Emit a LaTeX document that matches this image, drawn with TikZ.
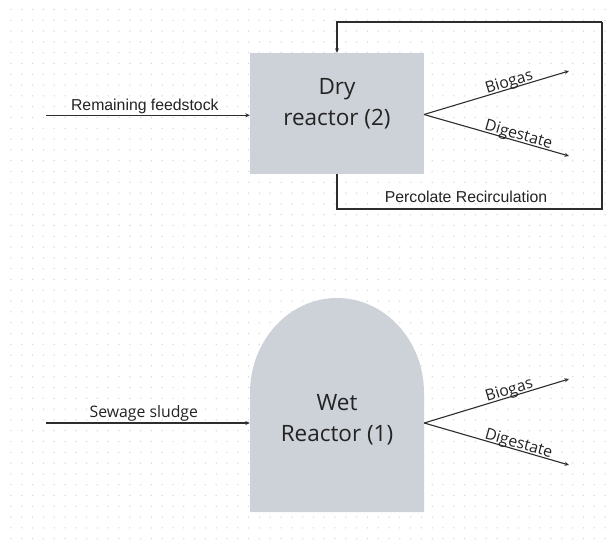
\documentclass[tikz,border=0pt]{standalone}
\usepackage{fontspec}
\setmainfont{Open Sans}
\newfontfamily\arialfont{Liberation Sans}
\usetikzlibrary{arrows.meta}
\definecolor{reactorfill}{RGB}{205,209,216}
\definecolor{linecol}{RGB}{45,45,45}
\definecolor{dotcol}{RGB}{215,215,215}
\definecolor{textcol}{RGB}{35,35,35}

\tikzset{
  flow/.style={draw=linecol, line width=1.1pt, -{Stealth[length=4.5pt,width=4pt]}},
  loopline/.style={draw=linecol, line width=1.1pt},
  reactor/.style={fill=reactorfill, draw=none, rectangle, inner sep=0pt},
  bigtext/.style={font=\fontsize{22.5}{31}\selectfont, text=textcol, align=center},
  smalltext/.style={font=\fontsize{15.8}{19}\selectfont, text=textcol, inner sep=0pt},
  slopetext/.style={smalltext, sloped, above=-2.5pt},
  sanslabel/.style={font=\arialfont\fontsize{15.8}{18}\selectfont, text=textcol, inner sep=0pt},
}

\begin{document}
\begin{tikzpicture}[x=1pt, y=-1pt]
  % canvas
  \fill[white] (0,0) rectangle (613,540);
  \useasboundingbox (0,0) rectangle (613,540);

  % dotted background grid
  \foreach \i in {0,...,56} {
    \foreach \j in {0,...,49} {
      \fill[dotcol] ({11+10.8*\i},{9.5+10.8*\j}) circle[radius=0.75pt];
    }
  }

  % ---------- dry reactor (2) ----------
  \node[reactor, minimum width=174pt, minimum height=121pt] (dry) at (337,113.5) {};
  \node[bigtext] (drytext) at (337,104) {Dry\\reactor (2)};

  \coordinate (feedA) at (46,115.3);
  \draw[flow] (feedA) -- (dry.west |- feedA)
    node[sanslabel, pos=0.485, anchor=base, yshift=4.6pt] {Remaining feedstock};

  \coordinate (dryOut) at (424,114.5);
  \coordinate (dryGas) at (569,71);
  \coordinate (dryDig) at (569,156);
  \draw[flow] (dryOut) -- (dryGas) node[slopetext, pos=0.6] {Biogas};
  \draw[flow] (dryOut) -- (dryDig) node[slopetext, pos=0.64] {Digestate};

  % percolate recirculation loop
  \coordinate (loopBL) at (337,209);
  \coordinate (loopTR) at (602,22);
  \draw[loopline] (dry.south) -- (loopBL) -| (loopTR);
  \draw[flow] (loopTR) -| (dry.north);
  \node[sanslabel, anchor=base] (perc) at (466,202.7) {Percolate Recirculation};

  % ---------- wet reactor (1) ----------
  \fill[reactorfill] (250,512) -- (250,393)
    .. controls (250,340.5) and (289.2,298) .. (337,298)
    .. controls (384.8,298) and (424,340.5) .. (424,393)
    -- (424,512) -- cycle;
  \node[minimum width=174pt, inner sep=0pt] (wet) at (337,423) {};
  \node[bigtext] (wettext) at (337,419.5) {Wet\\Reactor (1)};

  \coordinate (feedB) at (46,423);
  \draw[flow] (feedB) -- (wet.west)
    node[smalltext, pos=0.48, anchor=base, yshift=5.6pt] {Sewage sludge};

  \coordinate (wetGas) at (569,379);
  \coordinate (wetDig) at (569,465);
  \draw[flow] (wet.east) -- (wetGas) node[slopetext, pos=0.6] {Biogas};
  \draw[flow] (wet.east) -- (wetDig) node[slopetext, pos=0.64] {Digestate};
\end{tikzpicture}
\end{document}
